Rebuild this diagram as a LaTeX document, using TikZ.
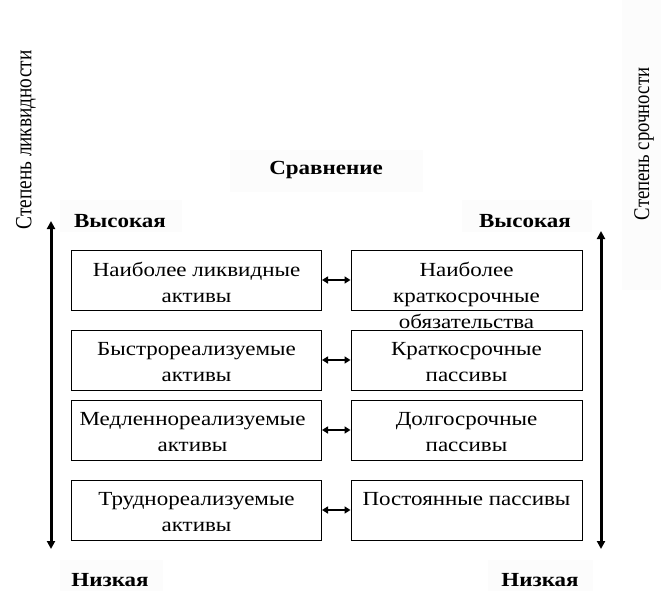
\documentclass[tikz,border=0pt]{standalone}
\usepackage{fontspec}
\setmainfont{Liberation Serif}[FakeStretch=1.15]
\newfontfamily\rotfont{Liberation Serif}
\usetikzlibrary{arrows.meta}
\tikzset{
  box/.style={draw=black, line width=1pt, inner sep=0pt, minimum height=60pt},
  lbox/.style={box, minimum width=250pt},
  rbox/.style={box, minimum width=231pt},
  boxtext/.style={anchor=north, inner sep=0pt, align=center, font=\fontsize{20}{26}\selectfont, yshift=-12.5pt},
  lbl/.style={anchor=base, inner sep=0pt, font=\fontsize{20}{24}\selectfont\bfseries},
  rot/.style={rotate=90, inner sep=0pt},
  darr/.style={line width=1.8pt, {Triangle[length=6pt,width=7pt]}-{Triangle[length=6pt,width=7pt]}},
  varr/.style={line width=3pt, {Triangle[length=8pt,width=8pt]}-{Triangle[length=8pt,width=8pt]}},
  faint/.style={fill=black!1, draw=none}
}
\begin{document}
\begin{tikzpicture}[x=1pt, y=-1pt]
\useasboundingbox (0,0) rectangle (661,591);
% faint text-box backgrounds
\fill[faint] (230,150) rectangle (423,192);
\fill[faint] (60,200) rectangle (182,232);
\fill[faint] (462,200) rectangle (592,232);
\fill[faint] (60,560) rectangle (163,591);
\fill[faint] (488,560) rectangle (593,591);
\fill[faint] (622,0) rectangle (661,290);

% labels
\node[lbl] (cmp) at (326,175) {Сравнение};
\node[lbl] (hiL) at (120,227.5) {Высокая};
\node[lbl] (hiR) at (525,227.5) {Высокая};
\node[lbl] (loL) at (110,586) {Низкая};
\node[lbl] (loR) at (540,586) {Низкая};
\node[rot] (axL) at (26,140) {\rotfont\fontsize{19.3}{22}\selectfont\scalebox{1}[1.2]{Степень ликвидности}};
\node[rot] (axR) at (644,144) {\rotfont\fontsize{18.7}{22}\selectfont\scalebox{1}[1.2]{Степень срочности}};

% boxes
\node[lbox] (L1) at (196.5,280) {};
\node[lbox] (L2) at (196.5,360) {};
\node[lbox] (L3) at (196.5,430) {};
\node[lbox] (L4) at (196.5,510) {};
\node[rbox] (R1) at (466.5,280) {};
\node[rbox] (R2) at (466.5,360) {};
\node[rbox] (R3) at (466.5,430) {};
\node[rbox] (R4) at (466.5,510) {};

% box texts
\node[boxtext] (L1t) at (L1.north) {Наиболее ликвидные\\активы};
\node[boxtext] (L2t) at (L2.north) {Быстрореализуемые\\активы};
\node[boxtext, xshift=-4pt] (L3t) at (L3.north) {Медленнореализуемые\\активы};
\node[boxtext] (L4t) at (L4.north) {Труднореализуемые\\активы};
\node[boxtext] (R1t) at (R1.north) {Наиболее\\краткосрочные\\обязательства};
\node[boxtext] (R2t) at (R2.north) {Краткосрочные\\пассивы};
\node[boxtext] (R3t) at (R3.north) {Долгосрочные\\пассивы};
\node[boxtext] (R4t) at (R4.north) {Постоянные пассивы};

% double arrows between boxes
\draw[darr] (L1.east) -- (R1.west);
\draw[darr] (L2.east) -- (R2.west);
\draw[darr] (L3.east) -- (R3.west);
\draw[darr] (L4.east) -- (R4.west);

% vertical axes
\coordinate (lt) at (51,221);
\coordinate (lb) at (51,549);
\coordinate (rt) at (601,231);
\coordinate (rb) at (601,549);
\draw[varr] (lb) -- (lt);
\draw[varr] (rb) -- (rt);
\end{tikzpicture}
\end{document}
